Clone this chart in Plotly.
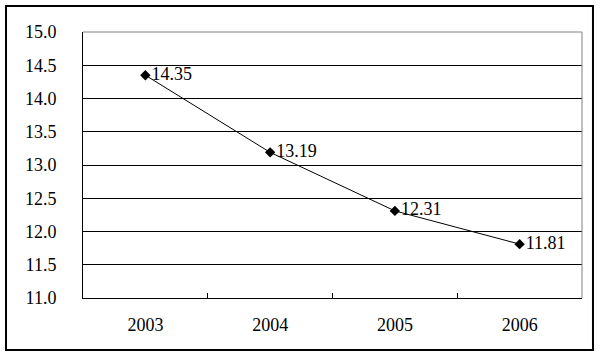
import plotly.graph_objects as go

years = ["2003", "2004", "2005", "2006"]
values = [14.35, 13.19, 12.31, 11.81]
labels = ["14.35", "13.19", "12.31", "11.81"]
y_ticks = [11.0, 11.5, 12.0, 12.5, 13.0, 13.5, 14.0, 14.5, 15.0]

FONT = "Liberation Serif"

fig = go.Figure()
fig.add_trace(go.Scatter(
    x=years, y=values, mode="lines+markers+text",
    text=labels, textposition="middle right",
    textfont=dict(family=FONT, size=18, color="black"),
    line=dict(color="black", width=1),
    marker=dict(symbol="diamond", size=8, color="black"),
    cliponaxis=False, showlegend=False,
))

fig.update_layout(
    width=602, height=357,
    margin=dict(l=83, r=20, t=32, b=59),
    paper_bgcolor="white", plot_bgcolor="white",
    font=dict(family=FONT, size=18, color="black"),
    xaxis=dict(
        type="category", range=[-0.5, 3.5],
        showgrid=False, zeroline=False,
        showline=True, linecolor="black", linewidth=1,
        ticks="inside", tickson="boundaries", ticklen=5, tickcolor="black",
        tickfont=dict(family=FONT, size=18, color="black"),
        ticklabelstandoff=10,
    ),
    yaxis=dict(
        range=[11, 15], tickvals=y_ticks, tickformat=".1f",
        showgrid=True, gridcolor="black", gridwidth=1,
        zeroline=False, showline=True, linecolor="black", linewidth=1,
        ticks="", tickfont=dict(family=FONT, size=18, color="black"),
        ticklabelstandoff=22,
    ),
    shapes=[
        dict(type="line", xref="paper", yref="paper", x0=0, x1=1, y0=1, y1=1,
             line=dict(color="#808080", width=1)),
        dict(type="line", xref="paper", yref="paper", x0=1, x1=1, y0=0, y1=1,
             line=dict(color="#808080", width=1)),
        dict(type="rect", xref="paper", yref="paper",
             x0=-0.1543, x1=1.022, y0=-0.1955, y1=1.0977,
             line=dict(color="black", width=2)),
    ],
)

fig.write_html("out.html")
